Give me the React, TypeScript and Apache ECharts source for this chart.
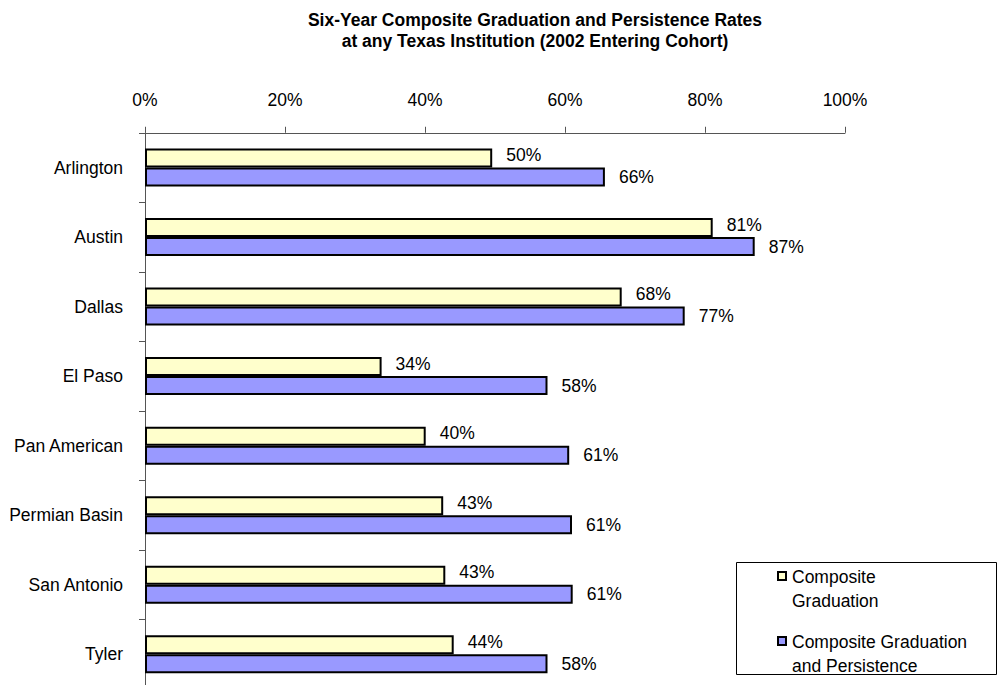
import React, { useEffect, useRef } from "react";
import * as echarts from "echarts";

const categories = ["Arlington", "Austin", "Dallas", "El Paso", "Pan American", "Permian Basin", "San Antonio", "Tyler"];
const seriesNames = ["Composite Graduation", "Composite Graduation and Persistence"];
const legendLabels = ["Composite\nGraduation", "Composite Graduation\nand Persistence"];
const gradValues = [49.6, 81.1, 68.1, 33.8, 40.1, 42.6, 42.9, 44.1];
const persistValues = [65.7, 87.1, 77.1, 57.5, 60.6, 61.0, 61.1, 57.5];
const colors = ["#FFFFCC", "#9999FF"];
const titleText = "Six-Year Composite Graduation and Persistence Rates\nat any Texas Institution (2002 Entering Cohort)";

const FONT = "'Liberation Sans', Arial, sans-serif";
const FS = 17.5;

export default function App() {
  const ref = useRef<HTMLDivElement>(null);
  useEffect(() => {
    if (!ref.current) return;
    const chart = echarts.init(ref.current, null, { renderer: "svg" });
    const legendGraphics: any[] = [
      {
        type: "rect",
        shape: { x: 736.5, y: 562.5, width: 260, height: 112 },
        style: { fill: "#fff", stroke: "#000", lineWidth: 1 },
        z: 10,
      },
    ];
    const legendTops = [565, 630];
    legendLabels.forEach((lbl, i) => {
      legendGraphics.push({
        type: "rect",
        shape: { x: 778, y: legendTops[i] + 7, width: 8, height: 8 },
        style: { fill: colors[i], stroke: "#000", lineWidth: 2 },
        z: 11,
      });
      legendGraphics.push({
        type: "text",
        x: 792,
        y: legendTops[i],
        style: {
          text: lbl,
          fontFamily: FONT,
          fontSize: FS,
          lineHeight: 24,
          fill: "#000",
          verticalAlign: "top",
          align: "left",
        },
        z: 11,
      });
    });

    const labelFmt = (p: any) => Math.round(p.value) + "%";

    chart.setOption({
      animation: false,
      textStyle: { fontFamily: FONT },
      title: {
        text: titleText,
        left: 535,
        top: 10,
        textAlign: "center",
        padding: 0,
        textStyle: {
          fontFamily: FONT,
          fontSize: FS,
          fontWeight: "bold",
          lineHeight: 20.5,
          color: "#000",
        },
      },
      grid: { left: 145, right: 162, top: 132.75, bottom: 0, containLabel: false },
      xAxis: {
        type: "value",
        position: "top",
        min: 0,
        max: 100,
        interval: 20,
        axisLine: { show: true, lineStyle: { color: "#555", width: 1 } },
        axisTick: { show: true, length: 6, lineStyle: { color: "#555" } },
        splitLine: { show: false },
        axisLabel: { formatter: "{value}%", fontFamily: FONT, fontSize: FS, color: "#000", margin: 24 },
      },
      yAxis: {
        type: "category",
        inverse: true,
        data: categories,
        axisLine: { show: true, lineStyle: { color: "#555", width: 1 } },
        axisTick: { show: true, length: 6, lineStyle: { color: "#555" } },
        axisLabel: { fontFamily: FONT, fontSize: FS, color: "#000", margin: 22 },
      },
      series: [
        {
          name: seriesNames[0],
          type: "bar",
          data: gradValues,
          barWidth: 19,
          barGap: "0%",
          itemStyle: { color: colors[0], borderColor: "#000", borderWidth: 2 },
          label: {
            show: true,
            position: "right",
            distance: 14,
            offset: [0, -3],
            formatter: labelFmt,
            fontFamily: FONT,
            fontSize: FS,
            color: "#000",
          },
        },
        {
          name: seriesNames[1],
          type: "bar",
          data: persistValues,
          barWidth: 19,
          barGap: "0%",
          itemStyle: { color: colors[1], borderColor: "#000", borderWidth: 2 },
          label: {
            show: true,
            position: "right",
            distance: 14,
            formatter: labelFmt,
            fontFamily: FONT,
            fontSize: FS,
            color: "#000",
          },
        },
      ],
      graphic: legendGraphics,
    });
    return () => chart.dispose();
  }, []);

  return (
    <div style={{ position: "absolute", left: 0, top: 0, width: 1007, height: 685, overflow: "hidden", background: "#fff" }}>
      <div ref={ref} style={{ width: 1007, height: 689 }} />
    </div>
  );
}
